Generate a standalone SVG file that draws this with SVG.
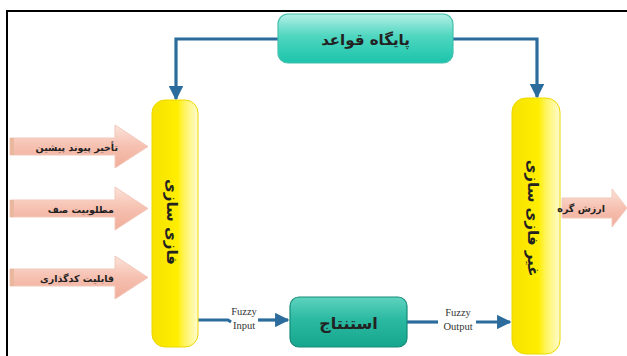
<svg xmlns="http://www.w3.org/2000/svg" width="627" height="356" viewBox="0 0 627 356">
<defs>
<linearGradient id="teal1" x1="0" y1="0" x2="0" y2="1">
<stop offset="0" stop-color="#b4f0e6"/><stop offset="0.45" stop-color="#4fd6c0"/><stop offset="1" stop-color="#1cc4ab"/>
</linearGradient>
<linearGradient id="teal2" x1="0" y1="0" x2="0" y2="1">
<stop offset="0" stop-color="#5fd3bf"/><stop offset="0.45" stop-color="#2bb9a2"/><stop offset="1" stop-color="#16a58d"/>
</linearGradient>
<linearGradient id="yel" x1="0" y1="0" x2="1" y2="0">
<stop offset="0" stop-color="#f6e200"/><stop offset="0.55" stop-color="#ffee00"/><stop offset="0.7" stop-color="#fff45a"/><stop offset="1" stop-color="#fffbd0"/>
</linearGradient>
<linearGradient id="pink" x1="0" y1="0" x2="0" y2="1">
<stop offset="0" stop-color="#fbe3da"/><stop offset="0.5" stop-color="#f6c0b0"/><stop offset="1" stop-color="#f0ad9a"/>
</linearGradient>
<marker id="ah" viewBox="0 0 10 10" refX="9" refY="5" markerWidth="4.5" markerHeight="4.5" orient="auto" markerUnits="strokeWidth">
<path d="M0,0 L10,5 L0,10 z" fill="#2b6c9c"/>
</marker>
<style>
.conn{fill:none;stroke:#2b6c9c;stroke-width:3.2}
.pill{fill:url(#yel);stroke:#eed800;stroke-width:1}
.arr{fill:url(#pink);stroke:#f2c9bb;stroke-width:1}
.fa{font-family:"DejaVu Sans",sans-serif;font-weight:bold;fill:#222}
.en{font-family:"Liberation Serif",serif;font-size:10.5px;fill:#333;text-anchor:middle}
</style>
</defs>
<rect width="627" height="356" fill="#ffffff"/>
<path d="M7,356 V11 H627" fill="none" stroke="#000" stroke-width="2"/>

<g id="connectors">
<path class="conn" d="M278,39 H176 V99" marker-end="url(#ah)"/>
<path class="conn" d="M453,39 H537 V97" marker-end="url(#ah)"/>
<path class="conn" d="M198,320 H228 L231,322"/>
<path class="conn" d="M258,320 H288" marker-end="url(#ah)"/>
<path class="conn" d="M407,322 H438"/>
<path class="conn" d="M476,322 H510" marker-end="url(#ah)"/>
<text class="en" x="244" y="315">Fuzzy</text>
<text class="en" x="244" y="329">Input</text>
<text class="en" x="458" y="316">Fuzzy</text>
<text class="en" x="458" y="330">Output</text>
</g>

<g id="rulebase">
<rect x="278" y="14" width="175" height="49" rx="10" fill="url(#teal1)" stroke="#45bfae" stroke-width="1.2"/>
<text class="fa" x="365.5" y="45" font-size="15" text-anchor="middle">پایگاه قواعد</text>
</g>

<g id="inference">
<rect x="290" y="297" width="117" height="50" rx="9" fill="url(#teal2)" stroke="#168c79" stroke-width="1.2"/>
<text class="fa" x="348.5" y="329" font-size="16" text-anchor="middle">استنتاج</text>
</g>

<g id="fuzzifier">
<rect class="pill" x="152" y="100" width="46" height="247" rx="13"/>
<text class="fa" font-size="15" text-anchor="middle" transform="translate(167,222) rotate(90)">فازی سازی</text>
</g>

<g id="defuzzifier">
<rect class="pill" x="512" y="98" width="48" height="256" rx="14"/>
<text class="fa" font-size="15" text-anchor="middle" transform="translate(528,218) rotate(90)">غیر فازی سازی</text>
</g>

<g id="in1">
<path class="arr" d="M10,138 H115 V125 L148,146.5 L115,168 V155 H10 z"/>
<rect x="10" y="138" width="4" height="17" fill="#e9b89e"/>
<text class="fa" x="118" y="150.5" font-size="9.5" text-anchor="end">تأخیر پیوند پیشین</text>
</g>
<g id="in2">
<path class="arr" d="M10,200 H115 V187 L148,208.5 L115,230 V217 H10 z"/>
<rect x="10" y="200" width="4" height="17" fill="#e9b89e"/>
<text class="fa" x="114" y="212.5" font-size="9.5" text-anchor="end">مطلوبیت صف</text>
</g>
<g id="in3">
<path class="arr" d="M10,269 H115 V256 L148,277.5 L115,299 V286 H10 z"/>
<rect x="10" y="269" width="4" height="17" fill="#e9b89e"/>
<text class="fa" x="114" y="281.5" font-size="9.5" text-anchor="end">قابلیت کدگذاری</text>
</g>

<g id="out">
<path class="arr" d="M562,198 H612 V189 L627,208 L612,227 V218 H562 z"/>
<text class="fa" x="605" y="211.5" font-size="9.5" text-anchor="end">ارزش گره</text>
</g>
</svg>
